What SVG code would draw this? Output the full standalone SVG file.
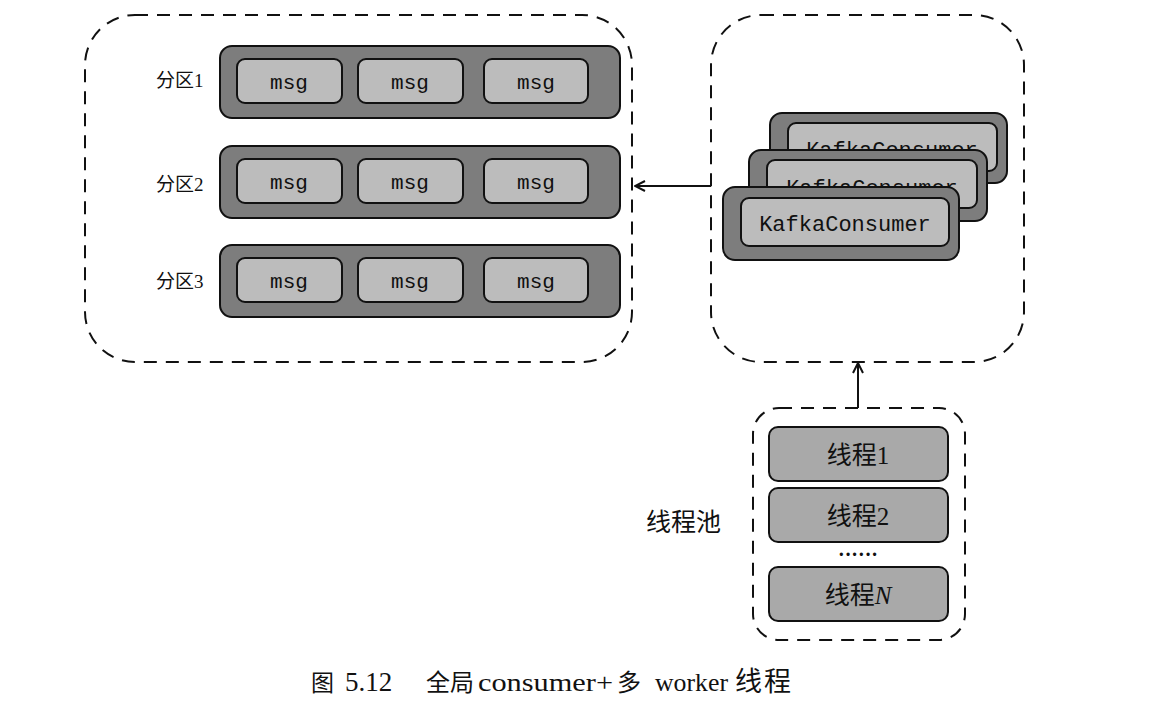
<svg xmlns="http://www.w3.org/2000/svg" width="1157" height="707" viewBox="0 0 1157 707">
<defs>
<style>
.dash{fill:none;stroke:#111;stroke-width:2;stroke-dasharray:13,9}
.row{fill:#7d7d7d;stroke:#111;stroke-width:2}
.msg{fill:#bcbcbc;stroke:#111;stroke-width:2}
.thr{fill:#a9a9a9;stroke:#111;stroke-width:2}
.mono{font-family:"Liberation Mono","DejaVu Sans Mono",monospace;fill:#111;text-anchor:middle}
.cjk{font-family:"Liberation Serif","Noto Sans CJK SC",serif;fill:#111}
.line{fill:none;stroke:#111;stroke-width:2}
</style>
<marker id="arr" viewBox="0 0 12 12" refX="11" refY="6" markerWidth="12" markerHeight="12" markerUnits="userSpaceOnUse" orient="auto">
<path d="M1,1 L11,6 L1,11" fill="none" stroke="#111" stroke-width="2"/>
</marker>
</defs>
<rect width="1157" height="707" fill="#fff"/>

<g id="partitions">
<rect class="dash" x="85" y="15" width="547" height="347" rx="50"/>
</g>

<g id="partition1">
<text class="cjk" x="156" y="87" font-size="19">分区1</text>
<rect class="row" x="220" y="46" width="400" height="72" rx="12"/>
<rect class="msg" x="237" y="59" width="105" height="44" rx="8"/>
<rect class="msg" x="358" y="59" width="105" height="44" rx="8"/>
<rect class="msg" x="484" y="59" width="104" height="44" rx="8"/>
<text class="mono" x="289" y="89" font-size="21">msg</text>
<text class="mono" x="410" y="89" font-size="21">msg</text>
<text class="mono" x="536" y="89" font-size="21">msg</text>
</g>
<g id="partition2">
<text class="cjk" x="156" y="191" font-size="19">分区2</text>
<rect class="row" x="220" y="146" width="400" height="72" rx="12"/>
<rect class="msg" x="237" y="159" width="105" height="44" rx="8"/>
<rect class="msg" x="358" y="159" width="105" height="44" rx="8"/>
<rect class="msg" x="484" y="159" width="104" height="44" rx="8"/>
<text class="mono" x="289" y="189" font-size="21">msg</text>
<text class="mono" x="410" y="189" font-size="21">msg</text>
<text class="mono" x="536" y="189" font-size="21">msg</text>
</g>
<g id="partition3">
<text class="cjk" x="156" y="288" font-size="19">分区3</text>
<rect class="row" x="220" y="245" width="400" height="72" rx="12"/>
<rect class="msg" x="237" y="258" width="105" height="44" rx="8"/>
<rect class="msg" x="358" y="258" width="105" height="44" rx="8"/>
<rect class="msg" x="484" y="258" width="104" height="44" rx="8"/>
<text class="mono" x="289" y="288" font-size="21">msg</text>
<text class="mono" x="410" y="288" font-size="21">msg</text>
<text class="mono" x="536" y="288" font-size="21">msg</text>
</g>

<g id="consumer-container">
<rect class="dash" x="711" y="15" width="313" height="347" rx="50"/>
</g>
<g id="consumer3">
<rect class="row" x="770" y="113" width="237" height="70" rx="12"/>
<rect class="msg" x="788" y="123" width="209" height="48" rx="8"/>
<text class="mono" x="892" y="157" font-size="22">KafkaConsumer</text>
</g>
<g id="consumer2">
<rect class="row" x="749" y="150" width="238" height="71" rx="12"/>
<rect class="msg" x="767" y="160" width="210" height="48" rx="8"/>
<text class="mono" x="872" y="195" font-size="22">KafkaConsumer</text>
</g>
<g id="consumer1">
<rect class="row" x="723" y="187" width="236" height="73" rx="12"/>
<rect class="msg" x="741" y="198" width="208" height="48" rx="8"/>
<text class="mono" x="845" y="231" font-size="22">KafkaConsumer</text>
</g>

<g id="threadpool">
<rect class="dash" x="753" y="408" width="212" height="232" rx="26"/>
<text class="cjk" x="646" y="531" font-size="25">线程池</text>
</g>
<g id="thread1">
<rect class="thr" x="769" y="427" width="179" height="54" rx="9"/>
<text class="cjk" x="858" y="464" font-size="25" text-anchor="middle">线程1</text>
</g>
<g id="thread2">
<rect class="thr" x="769" y="488" width="179" height="54" rx="9"/>
<text class="cjk" x="858" y="525" font-size="25" text-anchor="middle">线程2</text>
</g>
<g id="dots">
<text class="cjk" x="858" y="561" font-size="20" text-anchor="middle" font-weight="bold">······</text>
</g>
<g id="threadN">
<rect class="thr" x="769" y="567" width="179" height="54" rx="9"/>
<text class="cjk" x="858" y="604" font-size="25" text-anchor="middle">线程<tspan font-style="italic">N</tspan></text>
</g>

<g id="connectors">
<line class="line" x1="711" y1="186" x2="635" y2="186" marker-end="url(#arr)"/>
<line class="line" x1="858" y1="408" x2="858" y2="363" marker-end="url(#arr)"/>
</g>

<g id="caption">
<text class="cjk" y="691" font-size="25"><tspan x="311" font-size="23">图</tspan><tspan x="345" font-size="27">5.12</tspan><tspan x="426" font-size="24">全局</tspan><tspan x="478" textLength="135" lengthAdjust="spacingAndGlyphs">consumer+</tspan><tspan x="617" font-size="24">多</tspan><tspan x="655" textLength="73" lengthAdjust="spacingAndGlyphs">worker</tspan><tspan x="735" font-size="27" letter-spacing="2">线程</tspan></text>
</g>
</svg>
